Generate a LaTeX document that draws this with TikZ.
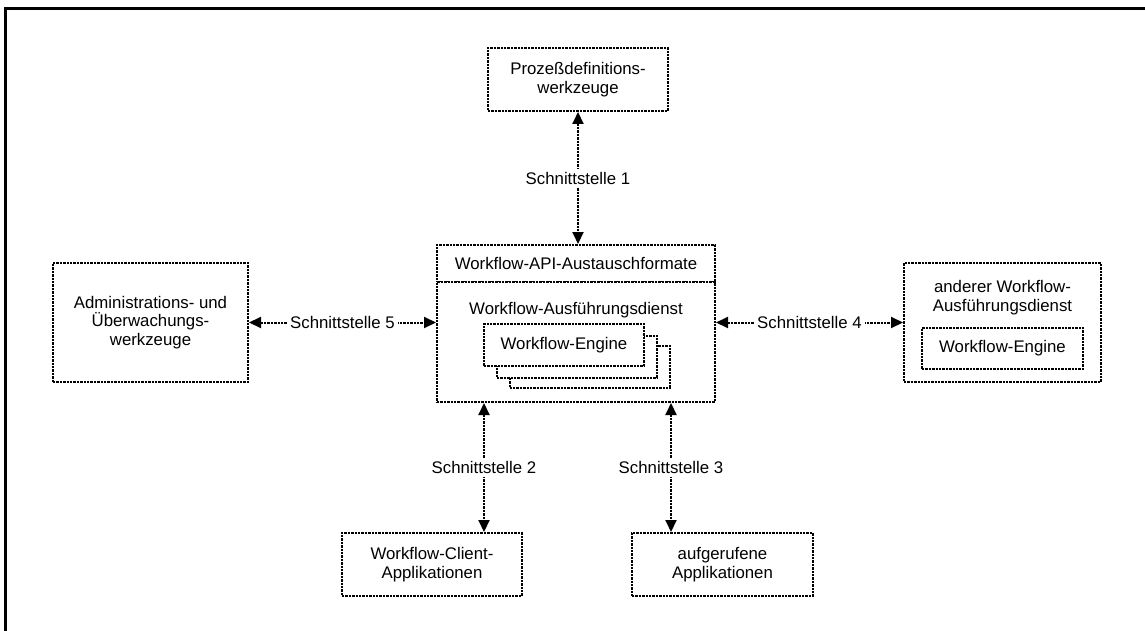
\documentclass[tikz,border=0pt]{standalone}
\usepackage{fontspec}
\setmainfont{Liberation Sans}
\usetikzlibrary{positioning,arrows.meta}

\begin{document}
\begin{tikzpicture}[x=0.5pt,y=-0.5pt,
    font=\fontsize{8.4}{9.4}\selectfont,
    box/.style={draw,dash pattern=on 1.2pt off 0.5pt,line width=1pt,
      align=center,inner sep=0pt,fill=white},
    link/.style={{Triangle[length=6pt,width=5.5pt]}-{Triangle[length=6pt,width=5.5pt]},
      dash pattern=on 1.2pt off 0.5pt,line width=1pt},
    tag/.style={fill=white,inner sep=1.5pt}]
\useasboundingbox (0,0) rectangle (1145,631);
\draw[line width=1.5pt] (5.5,631) -- (5.5,8.7) -- (1145,8.7);

\node[box,minimum width=90pt,minimum height=31.5pt](proz) at (578,79.5){Prozeßdefinitions-\\werkzeuge};
\node[box,minimum width=139pt,minimum height=18.5pt](api) at (576,263.5){Workflow-API-Austauschformate};
\node[box,minimum width=139pt,minimum height=60pt](dienst) at (576,342){};
\node[anchor=base](dname) at (576,314){Workflow-Ausführungsdienst};
\node[box,minimum width=80pt,minimum height=21pt](eng3) at (589.5,366.5){};
\node[box,minimum width=80pt,minimum height=21pt](eng2) at (577,356.5){};
\node[box,minimum width=80pt,minimum height=21pt](eng1) at (564,345){Workflow-Engine};

\node[box,minimum width=97.5pt,minimum height=59.5pt](admin) at (150.5,322.5){Administrations- und\\Überwachungs-\\werkzeuge};

\node[box,minimum width=98.5pt,minimum height=59.5pt](anderer) at (1002.5,322.5){};
\node[align=center](aname) at (1002.5,297.5){anderer Workflow-\\Ausführungsdienst};
\node[box,minimum width=80.5pt,minimum height=20.5pt](aeng) at (1002.5,348.5){Workflow-Engine};

\node[box,minimum width=90pt,minimum height=31.5pt](client) at (432,564.5){Workflow-Client-\\Applikationen};
\node[box,minimum width=90.5pt,minimum height=31.5pt](aufger) at (722.5,564.5){aufgerufene\\Applikationen};

\coordinate (c2) at (484,0);
\coordinate (c3) at (671,0);
\draw[link] (proz.south) -- (proz.south |- api.north) node[tag,midway]{Schnittstelle 1};
\draw[link] (c2 |- dienst.south) -- (c2 |- client.north) node[tag,midway]{Schnittstelle 2};
\draw[link] (c3 |- dienst.south) -- (c3 |- aufger.north) node[tag,midway]{Schnittstelle 3};
\draw[link] (dienst.east |- anderer.west) -- (anderer.west) node[tag,midway]{Schnittstelle 4};
\draw[link] (admin.east) -- (admin.east -| dienst.west) node[tag,midway]{Schnittstelle 5};
\end{tikzpicture}
\end{document}
